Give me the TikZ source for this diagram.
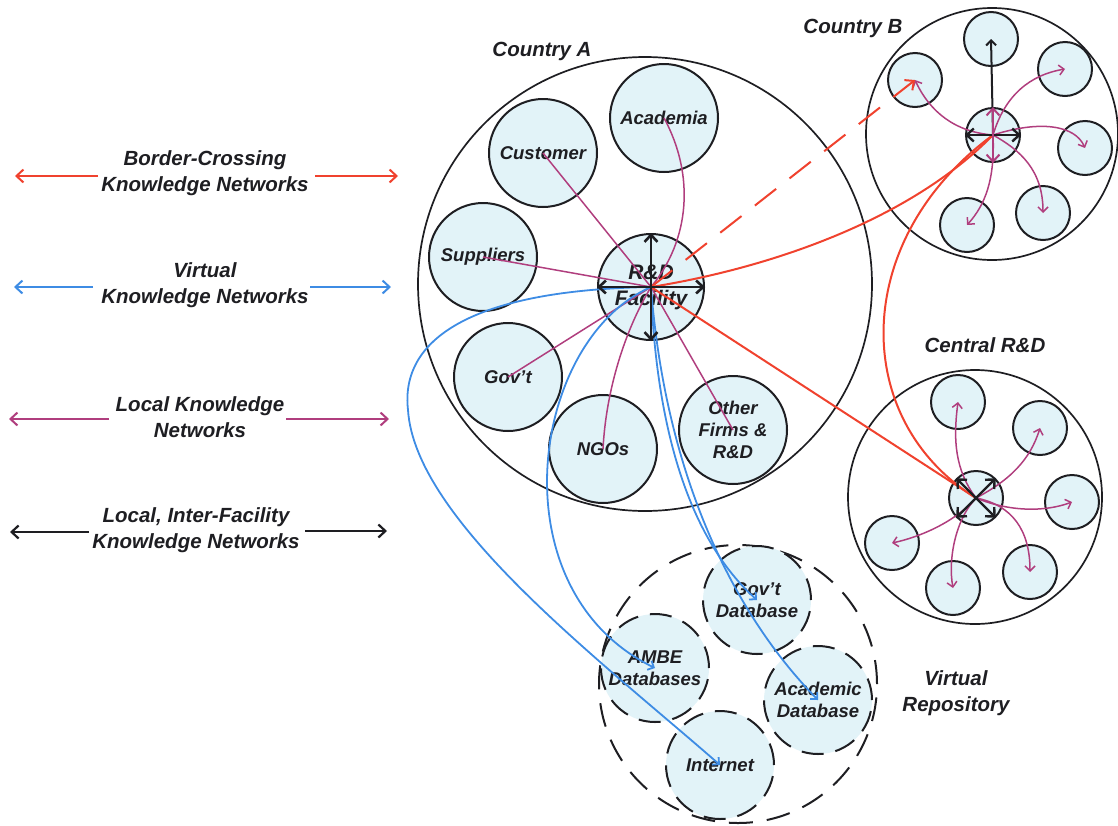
\documentclass[tikz,border=0pt]{standalone}
\usepackage{fontspec}
\setmainfont{Liberation Sans}
\usetikzlibrary{arrows.meta}

\definecolor{bordred}{RGB}{240,66,46}
\definecolor{virtblue}{RGB}{62,140,228}
\definecolor{localpurple}{RGB}{176,62,126}
\definecolor{satfill}{RGB}{226,243,248}
\definecolor{ink}{RGB}{30,30,34}

\tikzset{
  txt/.style={font=\fontsize{18.5}{22}\selectfont\bfseries\itshape, text=ink, align=center},
  lbl/.style={font=\fontsize{20.5}{26}\selectfont\bfseries\itshape, text=ink, align=center},
  region/.style={circle, draw=ink, line width=1.7pt, minimum size=#1, inner sep=0pt},
  sat/.style={circle, draw=ink, fill=satfill, line width=2pt, minimum size=108pt, inner sep=0pt, txt},
  minisat/.style={circle, draw=ink, fill=satfill, line width=2pt, minimum size=54pt, inner sep=0pt},
  vsat/.style={sat, dash pattern=on 22pt off 12pt},
  bigtip/.style={-{Straight Barb[length=7pt,width=13pt]}},
  smalltip/.style={-{Straight Barb[length=5pt,width=10pt]}},
  twotips/.style={{Straight Barb[length=7pt,width=13pt]}-{Straight Barb[length=7pt,width=13pt]}},
  cross/.style={draw=red, line width=2pt, line cap=round},
  redline/.style={draw=bordred, line width=2pt},
  blueline/.style={draw=virtblue, line width=1.8pt},
  localline/.style={draw=localpurple, line width=1.5pt},
  hubarrow/.style={draw=ink, line width=2.6pt, twotips},
}

\begin{document}
\begin{tikzpicture}[x=1pt, y=-1pt]
\useasboundingbox (0,0) rectangle (1118,825);

% ---------------- legend ----------------
\node[lbl] (lgA) at (205,173) {Border-Crossing\\Knowledge Networks};
\node[lbl] (lgB) at (205,285) {Virtual\\Knowledge Networks};
\node[lbl] (lgC) at (200,417) {Local Knowledge\\Networks};
\node[lbl] (lgD) at (196,530) {Local, Inter-Facility\\Knowledge Networks};

\coordinate (lgA1) at (15,176);  \coordinate (lgA2) at (98,176);
\coordinate (lgA3) at (315,176); \coordinate (lgA4) at (398,176);
\coordinate (lgB1) at (14,287);  \coordinate (lgB2) at (93,287);
\coordinate (lgB3) at (310,287); \coordinate (lgB4) at (391,287);
\coordinate (lgC1) at (9,419);   \coordinate (lgC2) at (109,419);
\coordinate (lgC3) at (286,419); \coordinate (lgC4) at (389,419);
\coordinate (lgD1) at (10,532);  \coordinate (lgD2) at (89,532);
\coordinate (lgD3) at (305,531); \coordinate (lgD4) at (387,531);

\draw[redline, bigtip] (lgA2) -- (lgA1);
\draw[redline, bigtip] (lgA3) -- (lgA4);
\draw[blueline, line width=2pt, bigtip] (lgB2) -- (lgB1);
\draw[blueline, line width=2pt, bigtip] (lgB3) -- (lgB4);
\draw[localline, line width=2pt, bigtip] (lgC2) -- (lgC1);
\draw[localline, line width=2pt, bigtip] (lgC3) -- (lgC4);
\draw[ink, line width=2.2pt, bigtip] (lgD2) -- (lgD1);
\draw[ink, line width=2.2pt, bigtip] (lgD3) -- (lgD4);

% ---------------- Country A ----------------
\node[region=454pt] (ctyA) at (645,284) {};
\node[lbl] (ctyAlbl) at (542,51) {Country A};

\node[sat] (acad) at (664,118) {Academia};
\node[sat] (cust) at (543,153) {Customer};
\node[sat] (supp) at (483,257) {Suppliers};
\node[sat] (govt) at (508,377) {Gov't};
\node[sat] (ngos) at (603,449) {NGOs};
\node[sat] (othr) at (733,430) {Other\\Firms \&\\R\&D};
\node[sat, minimum size=106pt, font=\fontsize{21}{26}\selectfont\bfseries\itshape] (rd) at (651,287) {R\&D\\Facility};

% ---------------- Country B ----------------
\node[region=252pt] (ctyB) at (992,134) {};
\node[lbl] (ctyBlbl) at (853,28) {Country B};
\node[minisat] (hubB) at (993,135) {};
\node[minisat] (bT)  at (991,39) {};
\node[minisat] (bUL) at (915,80) {};
\node[minisat] (bUR) at (1065,69) {};
\node[minisat] (bR)  at (1085,148) {};
\node[minisat] (bLR) at (1043,213) {};
\node[minisat] (bLL) at (967,225) {};

% ---------------- Central R&D ----------------
\node[region=254pt] (ctyC) at (975,497) {};
\node[lbl] (ctyClbl) at (985,345) {Central R\&D};
\node[minisat] (hubC) at (976,498) {};
\node[minisat] (cT)  at (958,402) {};
\node[minisat] (cUR) at (1040,428) {};
\node[minisat] (cR)  at (1072,502) {};
\node[minisat] (cLR) at (1030,572) {};
\node[minisat] (cB)  at (953,588) {};
\node[minisat] (cL)  at (892,543) {};

% ---------------- Virtual Repository ----------------
\node[region=278pt, line width=2pt, dash pattern=on 24pt off 14pt] (vrep) at (738,684) {};
\node[lbl] (vreplbl) at (956,693) {Virtual\\Repository};
\node[vsat] (dbGov)  at (757,600) {Gov't\\Database};
\node[vsat] (dbAmbe) at (655,668) {AMBE\\Databases};
\node[vsat] (dbAcad) at (818,700) {Academic\\Database};
\node[vsat] (dbNet)  at (720,765) {Internet};

% ---------------- local knowledge links, Country A ----------------
\draw[localline] (cust.center) -- (rd.center);
\draw[localline] (supp.center) -- (rd.center);
\draw[localline] (govt.center) -- (rd.center);
\draw[localline] (othr.center) -- (rd.center);
\draw[localline] (acad.center) .. controls (695,175) and (690,240) .. (rd.center);
\draw[localline] (ngos.center) .. controls (606,390) and (625,330) .. (rd.center);

% ---------------- virtual links ----------------
\coordinate (vbend) at (408,410);
\draw[blueline, smalltip] (rd.center) .. controls (470,290) and (400,340) .. (vbend)
      .. controls (415,520) and (600,660) .. (dbNet.center);
\draw[blueline, smalltip] (rd.center) .. controls (530,340) and (495,590) .. (dbAmbe.center);
\draw[blueline, smalltip] (rd.center) .. controls (656,430) and (690,540) .. (dbGov.center);
\draw[blueline, smalltip] (rd.center) .. controls (665,470) and (730,610) .. (dbAcad.center);

% ---------------- local links, Country B ----------------
\draw[localline, smalltip] (hubB.center) .. controls (955,132) and (930,112) .. (bUL.center);
\draw[localline, smalltip] (hubB.center) .. controls (1005,95) and (1030,75) .. (bUR.center);
\draw[localline, smalltip] (hubB.center) .. controls (1040,120) and (1075,125) .. (bR.center);
\draw[localline, smalltip] (hubB.center) .. controls (1020,150) and (1043,170) .. (bLR.center);
\draw[localline, smalltip] (hubB.center) .. controls (995,180) and (985,205) .. (bLL.center);
\draw[ink, line width=2pt, smalltip] (hubB.center) -- (bT.center);

% ---------------- local links, Central R&D ----------------
\draw[localline, smalltip] (hubC.center) .. controls (955,470) and (953,440) .. (cT.center);
\draw[localline, smalltip] (hubC.center) .. controls (1010,480) and (1030,460) .. (cUR.center);
\draw[localline, smalltip] (hubC.center) .. controls (1010,512) and (1045,512) .. (cR.center);
\draw[localline, smalltip] (hubC.center) .. controls (1012,505) and (1030,530) .. (cLR.center);
\draw[localline, smalltip] (hubC.center) .. controls (955,520) and (948,560) .. (cB.center);
\draw[localline, smalltip] (hubC.center) .. controls (955,522) and (920,537) .. (cL.center);

% ---------------- border-crossing links ----------------
\draw[redline, dash pattern=on 27pt off 17pt, bigtip] (rd.center) -- (bUL.center);
\draw[redline] (rd.center) .. controls (770,268) and (910,220) .. (hubB.center);
\draw[redline] (rd.center) -- (hubC.center);
\draw[redline] (hubB.center) .. controls (850,240) and (850,420) .. (hubC.center);

% ---------------- inter-facility arrows inside the hubs ----------------
\draw[hubarrow] (rd.west) -- (rd.east);
\draw[hubarrow] (rd.north) -- (rd.south);
\draw[hubarrow, line width=2.4pt] (hubB.west) -- (hubB.east);
\draw[localline, line width=2pt, twotips] (hubB.north) -- (hubB.south);
\draw[hubarrow, line width=2.4pt] (hubC.north west) -- (hubC.south east);
\draw[hubarrow, line width=2.4pt] (hubC.north east) -- (hubC.south west);
\end{tikzpicture}
\end{document}
